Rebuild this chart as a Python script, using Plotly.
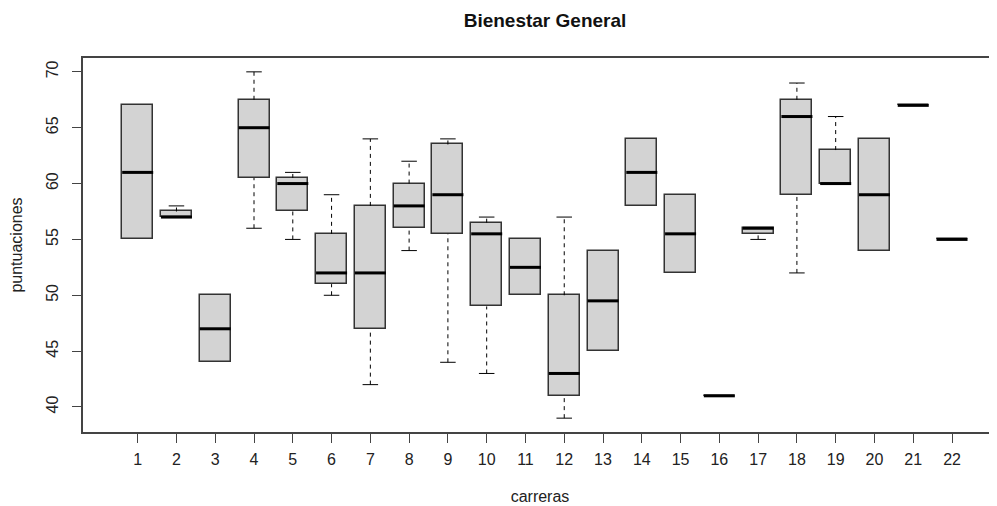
import plotly.graph_objects as go

categories = list(range(1, 23))
mins    = [55, 57, 44, 56,   55,   50, 42, 54, 44,   43,   50,   39, 45,   58, 52,   41, 55,   52,   60, 54, 67, 55]
q1s     = [55, 57, 44, 60.5, 57.5, 51, 47, 56, 55.5, 49,   50,   41, 45,   58, 52,   41, 55.5, 59,   60, 54, 67, 55]
medians = [61, 57, 47, 65,   60,   52, 52, 58, 59,   55.5, 52.5, 43, 49.5, 61, 55.5, 41, 56,   66,   60, 59, 67, 55]
q3s     = [67, 57.5, 50, 67.5, 60.5, 55.5, 58, 60, 63.5, 56.5, 55, 50, 54, 64, 59, 41, 56, 67.5, 63, 64, 67, 55]
maxs    = [67, 58, 50, 70,   61,   59, 64, 62, 64,   57,   55,   57, 54,   64, 59,   41, 56,   69,   66, 64, 67, 55]
y_ticks = [40, 45, 50, 55, 60, 65, 70]

box_w = 0.8
cap_w = 0.4

FONT = "Liberation Sans, Arial, sans-serif"

fig = go.Figure()

# dashed whiskers and caps (only where the whisker extends beyond the box)
wx, wy, sx, sy = [], [], [], []
for c, lo, a, b, hi in zip(categories, mins, q1s, q3s, maxs):
    if hi > b:
        wx += [c, c, None]; wy += [b, hi, None]
        sx += [c - cap_w / 2, c + cap_w / 2, None]; sy += [hi, hi, None]
    if lo < a:
        wx += [c, c, None]; wy += [lo, a, None]
        sx += [c - cap_w / 2, c + cap_w / 2, None]; sy += [lo, lo, None]
fig.add_trace(go.Scatter(x=wx, y=wy, mode="lines",
                         line=dict(color="black", width=1, dash="4px,4px"),
                         hoverinfo="skip", showlegend=False))
fig.add_trace(go.Scatter(x=sx, y=sy, mode="lines",
                         line=dict(color="black", width=1),
                         hoverinfo="skip", showlegend=False))

# boxes
fig.add_trace(go.Bar(x=categories,
                     y=[b - a for a, b in zip(q1s, q3s)],
                     base=q1s, width=box_w,
                     marker=dict(color="#d3d3d3", line=dict(color="#333333", width=1.5)),
                     hoverinfo="skip", showlegend=False))

# medians
mx, my = [], []
for c, m in zip(categories, medians):
    mx += [c - box_w / 2, c + box_w / 2, None]; my += [m, m, None]
fig.add_trace(go.Scatter(x=mx, y=my, mode="lines",
                         line=dict(color="black", width=3),
                         hoverinfo="skip", showlegend=False))

W, H = 989, 498
fig.update_layout(
    width=W, height=H,
    margin=dict(l=75, r=0, t=50, b=74, autoexpand=False),
    paper_bgcolor="white", plot_bgcolor="white",
    font=dict(family=FONT, size=16, color="#222222"),
    title=dict(text="<b>Bienestar General</b>", x=(545 - 8) / W, xref="container",
               xanchor="center", y=1 - (20 - 8) / H, yref="container", yanchor="middle",
               font=dict(family=FONT, size=19, color="#111111")),
    bargap=0,
)
fig.update_xaxes(range=[-0.41, 23.16], tickmode="array", tickvals=categories,
                 ticktext=[str(c) for c in categories], automargin=False,
                 showgrid=False, zeroline=False, ticklabelstandoff=3,
                 showline=True, linecolor="#444444", linewidth=1.5, mirror=True,
                 ticks="outside", ticklen=9, tickcolor="#444444", tickwidth=1.2,
                 title=dict(text="carreras", standoff=24, font=dict(size=16)))
fig.update_yaxes(range=[37.76, 71.24], tickmode="array", tickvals=y_ticks,
                 ticktext=[str(v) for v in y_ticks], tickangle=-90, automargin=False,
                 showgrid=False, zeroline=False, ticklabelstandoff=8,
                 showline=True, linecolor="#444444", linewidth=1.5,
                 ticks="outside", ticklen=9, tickcolor="#444444", tickwidth=1.2,
                 title=dict(text="puntuaciones", standoff=20, font=dict(size=16)))

fig.write_html("out.html")
